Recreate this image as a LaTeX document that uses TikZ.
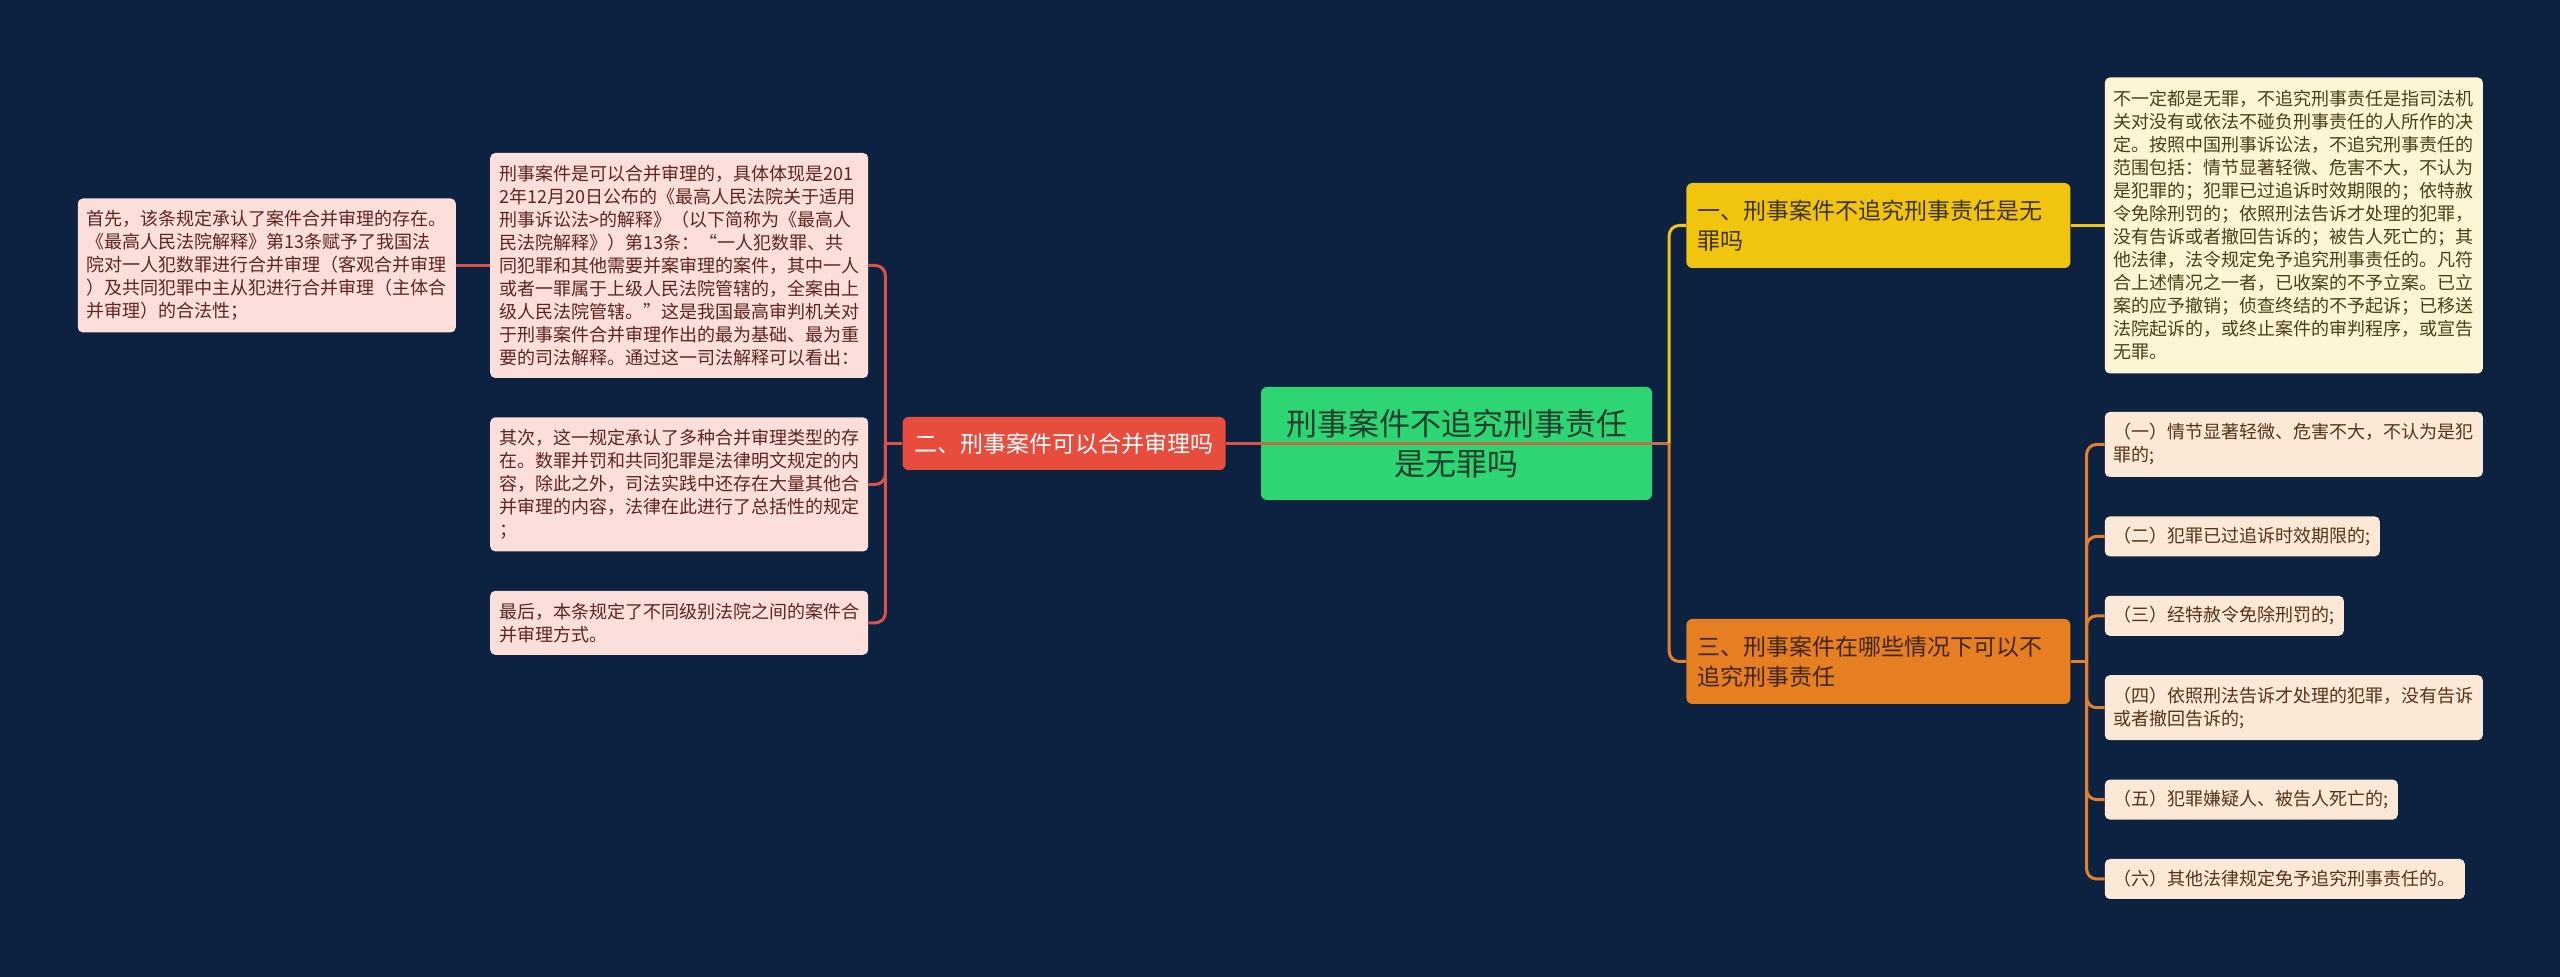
\documentclass[tikz,border=0pt]{standalone}
\usepackage{fontspec}
\setmainfont{Noto Sans CJK SC}
\usepackage{xcolor}
\usepackage{tikz}
\usetikzlibrary{positioning}

\definecolor{bgnavy}{HTML}{0D2240}
\definecolor{rootgreen}{HTML}{2ED573}
\definecolor{roottext}{HTML}{233D2C}
\definecolor{ybranch}{HTML}{F1C40F}
\definecolor{ytext}{HTML}{3D3310}
\definecolor{yleaf}{HTML}{FDF5D4}
\definecolor{yleaftext}{HTML}{4A4017}
\definecolor{obranch}{HTML}{E67E22}
\definecolor{otext}{HTML}{40250C}
\definecolor{oleaf}{HTML}{FBE8D6}
\definecolor{oleaftext}{HTML}{553318}
\definecolor{rbranch}{HTML}{E74C3C}
\definecolor{rleaf}{HTML}{FCDEDA}
\definecolor{rleaftext}{HTML}{5C2620}
\definecolor{rline}{HTML}{D9534A}
\definecolor{oline}{HTML}{E08030}
\definecolor{mline}{HTML}{BC714A}

\begin{document}
\begin{tikzpicture}[
    every node/.style={font={\fontsize{18pt}{23pt}\selectfont}},
    rootbox/.style={fill=rootgreen,text=roottext,rounded corners=6pt,minimum width=391pt,minimum height=113pt,align=center,inner sep=0pt,font={\fontsize{31pt}{40pt}\selectfont}},
    branchY/.style={fill=ybranch,text=ytext,rounded corners=6pt,text width=362pt,inner xsep=11pt,minimum height=85pt,align=left,font={\fontsize{23pt}{30pt}\selectfont}},
    branchO/.style={branchY,fill=obranch,text=otext},
    branchR/.style={fill=rbranch,text=white,rounded corners=6pt,inner xsep=12pt,minimum height=53pt,font={\fontsize{23pt}{30pt}\selectfont}},
    leafY/.style={fill=yleaf,text=yleaftext,rounded corners=5pt,text width=360pt,inner xsep=9pt,align=left},
    leafO/.style={fill=oleaf,text=oleaftext,rounded corners=5pt,inner xsep=9pt,minimum height=40pt,align=left},
    leafOw/.style={leafO,text width=360pt,minimum height=65pt},
    leafR/.style={fill=rleaf,text=rleaftext,rounded corners=5pt,text width=360pt,inner xsep=9pt,align=left},
    conR/.style={draw=rline,line width=3pt,rounded corners=10pt},
    conY/.style={draw=ybranch,line width=3pt,rounded corners=10pt},
    conO/.style={draw=oline,line width=3pt,rounded corners=10pt},
    conM/.style={draw=mline,line width=3pt},
]
\useasboundingbox (0,0) rectangle (2560pt,977pt);
\fill[bgnavy] (0,0) rectangle (2560pt,977pt);

% centre
\node[rootbox] (root) at (1456.5pt,533.5pt) {刑事案件不追究刑事责任\\是无罪吗};

% right: branch one and three
\node[branchY,right=34pt of root,yshift=218pt] (b1) {一、刑事案件不追究刑事责任是无\\罪吗};
\node[branchO,right=34pt of root,yshift=-218pt] (b3) {三、刑事案件在哪些情况下可以不\\追究刑事责任};
\node[leafY,right=34pt of b1,minimum height=296pt] (y1) {不一定都是无罪，不追究刑事责任是指司法机\\关对没有或依法不碰负刑事责任的人所作的决\\定。按照中国刑事诉讼法，不追究刑事责任的\\范围包括：情节显著轻微、危害不大，不认为\\是犯罪的；犯罪已过追诉时效期限的；依特赦\\令免除刑罚的；依照刑法告诉才处理的犯罪，\\没有告诉或者撤回告诉的；被告人死亡的；其\\他法律，法令规定免予追究刑事责任的。凡符\\合上述情况之一者，已收案的不予立案。已立\\案的应予撤销；侦查终结的不予起诉；已移送\\法院起诉的，或终止案件的审判程序，或宣告\\无罪。};

\node[leafOw,right=34pt of b3,yshift=217pt] (o1) {（一）情节显著轻微、危害不大，不认为是犯\\罪的;};
\node[leafO,below=39pt of o1.south west,anchor=north west] (o2) {（二）犯罪已过追诉时效期限的;};
\node[leafO,below=39pt of o2.south west,anchor=north west] (o3) {（三）经特赦令免除刑罚的;};
\node[leafOw,below=39pt of o3.south west,anchor=north west] (o4) {（四）依照刑法告诉才处理的犯罪，没有告诉\\或者撤回告诉的;};
\node[leafO,below=39pt of o4.south west,anchor=north west] (o5) {（五）犯罪嫌疑人、被告人死亡的;};
\node[leafO,below=39pt of o5.south west,anchor=north west] (o6) {（六）其他法律规定免予追究刑事责任的。};

% left: branch two
\node[branchR,left=35pt of root] (b2) {二、刑事案件可以合并审理吗};
\node[leafR,left=34pt of b2,yshift=178pt,minimum height=225pt] (r1) {刑事案件是可以合并审理的，具体体现是201\\2年12月20日公布的《最高人民法院关于适用\\刑事诉讼法>的解释》（以下简称为《最高人\\民法院解释》）第13条：“一人犯数罪、共\\同犯罪和其他需要并案审理的案件，其中一人\\或者一罪属于上级人民法院管辖的，全案由上\\级人民法院管辖。”这是我国最高审判机关对\\于刑事案件合并审理作出的最为基础、最为重\\要的司法解释。通过这一司法解释可以看出：};
\node[leafR,below=39pt of r1,minimum height=134pt] (r2) {其次，这一规定承认了多种合并审理类型的存\\在。数罪并罚和共同犯罪是法律明文规定的内\\容，除此之外，司法实践中还存在大量其他合\\并审理的内容，法律在此进行了总括性的规定\\；};
\node[leafR,below=39pt of r2,minimum height=64pt] (r3) {最后，本条规定了不同级别法院之间的案件合\\并审理方式。};
\node[leafR,left=34pt of r1,minimum height=134pt] (r0) {首先，该条规定承认了案件合并审理的存在。\\《最高人民法院解释》第13条赋予了我国法\\院对一人犯数罪进行合并审理（客观合并审理\\）及共同犯罪中主从犯进行合并审理（主体合\\并审理）的合法性；};

% connectors
\coordinate[right=17pt of root.east] (jR);
\coordinate[left=17pt of b2.west] (jL);
\coordinate[right=16pt of b3.east] (jO);
\draw[conR] (b2.east) -- (root.west);
\draw[conM] (root.west) -- (jR);
\draw[conY] (jR) |- (b1.west);
\draw[conO] (jR) |- (b3.west);
\draw[conY] (b1.east) -- (y1.west);
\draw[conO] (b3.east) -- (jO);
\foreach \n in {o1,o2,o3,o4,o5,o6}
    \draw[conO] (jO) |- (\n.west);
\draw[conR] (b2.west) -- (jL);
\foreach \n in {r1,r2,r3}
    \draw[conR] (jL) |- (\n.east);
\draw[conR] (r1.west) -- (r0.east);
\end{tikzpicture}
\end{document}
